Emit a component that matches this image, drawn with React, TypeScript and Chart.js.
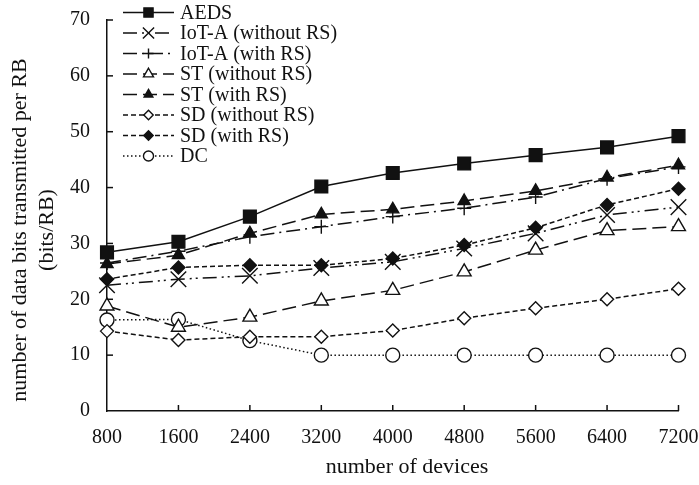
import React, { useEffect, useRef } from 'react';
import { Chart, registerables } from 'chart.js';
import { drawPoint } from 'chart.js/helpers';

Chart.register(...registerables);

// ---- data ----
const categories = ['800', '1600', '2400', '3200', '4000', '4800', '5600', '6400', '7200'];
const seriesNames = [
  'AEDS',
  'IoT-A (without RS)',
  'IoT-A (with RS)',
  'ST (without RS)',
  'ST (with RS)',
  'SD (without RS)',
  'SD (with RS)',
  'DC',
];
const aeds = [28.4, 30.3, 34.8, 40.2, 42.6, 44.3, 45.8, 47.2, 49.2];
const iotaWithout = [22.5, 23.6, 24.2, 25.6, 26.7, 29.1, 31.8, 35.1, 36.5];
const iotaWith = [26.5, 28.6, 31.2, 33.0, 34.8, 36.3, 38.3, 41.6, 43.7];
const stWithout = [18.8, 15.0, 16.8, 19.7, 21.6, 24.9, 28.8, 32.3, 33.0];
const stWith = [26.3, 27.9, 31.8, 35.2, 36.1, 37.6, 39.4, 41.8, 44.0];
const sdWithout = [14.3, 12.7, 13.3, 13.3, 14.4, 16.6, 18.4, 20.0, 21.9];
const sdWith = [23.6, 25.7, 26.1, 26.1, 27.3, 29.7, 32.8, 36.9, 39.8];
const dc = [16.3, 16.4, 12.6, 10.0, 10.0, 10.0, 10.0, 10.0, 10.0];
const yMin = 0;
const yMax = 70;
const yStep = 10;
const xTitle = 'number of devices';
const yTitleLines = ['number of data bits transmitted per RB', '(bits/RB)'];

const FONT = "'Liberation Serif', 'Times New Roman', Times, serif";
const INK = '#111';

type Style = {
  dash: number[];
  pointStyle: string;
  radius: number;
  fill: string;
};

const styles: Style[] = [
  { dash: [], pointStyle: 'rect', radius: 9, fill: INK },
  { dash: [14, 5, 2, 4, 2, 5], pointStyle: 'crossRot', radius: 11, fill: INK },
  { dash: [14, 5, 2, 5], pointStyle: 'cross', radius: 7, fill: INK },
  { dash: [14, 6], pointStyle: 'triangle', radius: 8, fill: '#fff' },
  { dash: [14, 6], pointStyle: 'triangle', radius: 7, fill: INK },
  { dash: [5, 3], pointStyle: 'rectRot', radius: 6.5, fill: '#fff' },
  { dash: [5, 3], pointStyle: 'rectRot', radius: 6.5, fill: INK },
  { dash: [1.5, 2.5], pointStyle: 'circle', radius: 7, fill: '#fff' },
];

const seriesValues = [aeds, iotaWithout, iotaWith, stWithout, stWith, sdWithout, sdWith, dc];

const decorPlugin = {
  id: 'decor',
  afterDraw(chart: any) {
    const ctx: CanvasRenderingContext2D = chart.ctx;
    const xs = chart.scales.x;
    const ys = chart.scales.y;
    ctx.save();
    ctx.strokeStyle = INK;
    ctx.lineWidth = 1.5;
    ctx.setLineDash([]);
    // inward tick marks
    xs.ticks.forEach((_: any, i: number) => {
      if (i === 0) return;
      const px = xs.getPixelForTick(i);
      ctx.beginPath();
      ctx.moveTo(px, ys.bottom);
      ctx.lineTo(px, ys.bottom - 6);
      ctx.stroke();
    });
    ys.ticks.forEach((_: any, i: number) => {
      if (i === 0) return;
      const py = ys.getPixelForTick(i);
      ctx.beginPath();
      ctx.moveTo(xs.left, py);
      ctx.lineTo(xs.left + 6, py);
      ctx.stroke();
    });

    // axis titles
    ctx.fillStyle = INK;
    ctx.font = `22px ${FONT}`;
    ctx.textAlign = 'center';
    ctx.textBaseline = 'middle';
    ctx.fillText(xTitle, 407, 467);
    yTitleLines.forEach((t, i) => {
      ctx.save();
      ctx.translate(20 + i * 27, 230);
      ctx.rotate(-Math.PI / 2);
      ctx.fillText(t, 0, 0);
      ctx.restore();
    });

    // legend
    ctx.font = `20px ${FONT}`;
    ctx.textAlign = 'left';
    chart.data.datasets.forEach((ds: any, i: number) => {
      const y = 12.5 + i * 20.5;
      ctx.strokeStyle = ds.borderColor;
      ctx.lineWidth = ds.borderWidth;
      ctx.setLineDash(ds.borderDash || []);
      ctx.beginPath();
      ctx.moveTo(123, y);
      ctx.lineTo(174, y);
      ctx.stroke();
      ctx.setLineDash([]);
      ctx.fillStyle = ds.pointBackgroundColor;
      ctx.strokeStyle = ds.pointBorderColor;
      ctx.lineWidth = ds.pointBorderWidth;
      drawPoint(
        ctx,
        { pointStyle: ds.pointStyle, radius: ds.pointRadius * 0.72, borderWidth: ds.pointBorderWidth, rotation: 0 } as any,
        148.5,
        y
      );
      ctx.fillStyle = INK;
      ctx.fillText(ds.label, 180, y + 1);
    });
    ctx.restore();
  },
};

export default function App() {
  const canvasRef = useRef<HTMLCanvasElement | null>(null);

  useEffect(() => {
    if (!canvasRef.current) return;
    const datasets = seriesNames.map((name, i) => {
      const s = styles[i];
      return {
        label: name,
        data: seriesValues[i],
        borderColor: INK,
        borderWidth: 1.5,
        borderDash: s.dash,
        pointStyle: s.pointStyle,
        pointRadius: s.radius,
        pointHoverRadius: s.radius,
        pointBackgroundColor: s.fill,
        pointBorderColor: INK,
        pointBorderWidth: 1.4,
        fill: false,
        tension: 0,
        clip: false,
      };
    });
    const chart = new Chart(canvasRef.current, {
      type: 'line',
      data: { labels: categories, datasets: datasets as any },
      options: {
        animation: false,
        responsive: false,
        maintainAspectRatio: false,
        events: [],
        layout: { padding: { left: 0, right: 20.5, top: 20, bottom: 0 } },
        plugins: {
          legend: { display: false },
          tooltip: { enabled: false },
          title: { display: false },
        },
        scales: {
          x: {
            type: 'category',
            offset: false,
            grid: {
              display: true,
              drawOnChartArea: false,
              drawTicks: true,
              tickLength: 15,
              color: 'rgba(0,0,0,0)',
            },
            border: { display: true, color: INK, width: 1.5 },
            ticks: {
              color: INK,
              font: { family: FONT, size: 20 },
              padding: 0,
              maxRotation: 0,
              autoSkip: false,
            },
            afterFit: (s: any) => {
              s.height = 74;
            },
          },
          y: {
            min: yMin,
            max: yMax,
            grid: {
              display: true,
              drawOnChartArea: false,
              drawTicks: true,
              tickLength: 17,
              color: 'rgba(0,0,0,0)',
            },
            border: { display: true, color: INK, width: 1.5 },
            ticks: {
              stepSize: yStep,
              color: INK,
              font: { family: FONT, size: 20 },
              padding: 0,
            },
            afterFit: (s: any) => {
              s.width = 107;
            },
          },
        },
      },
      plugins: [decorPlugin],
    });
    return () => chart.destroy();
  }, []);

  return (
    <div style={{ position: 'fixed', left: 0, top: 0, width: 699, height: 485, background: '#fff' }}>
      <canvas ref={canvasRef} width={699} height={485} style={{ width: 699, height: 485, display: 'block' }} />
    </div>
  );
}
